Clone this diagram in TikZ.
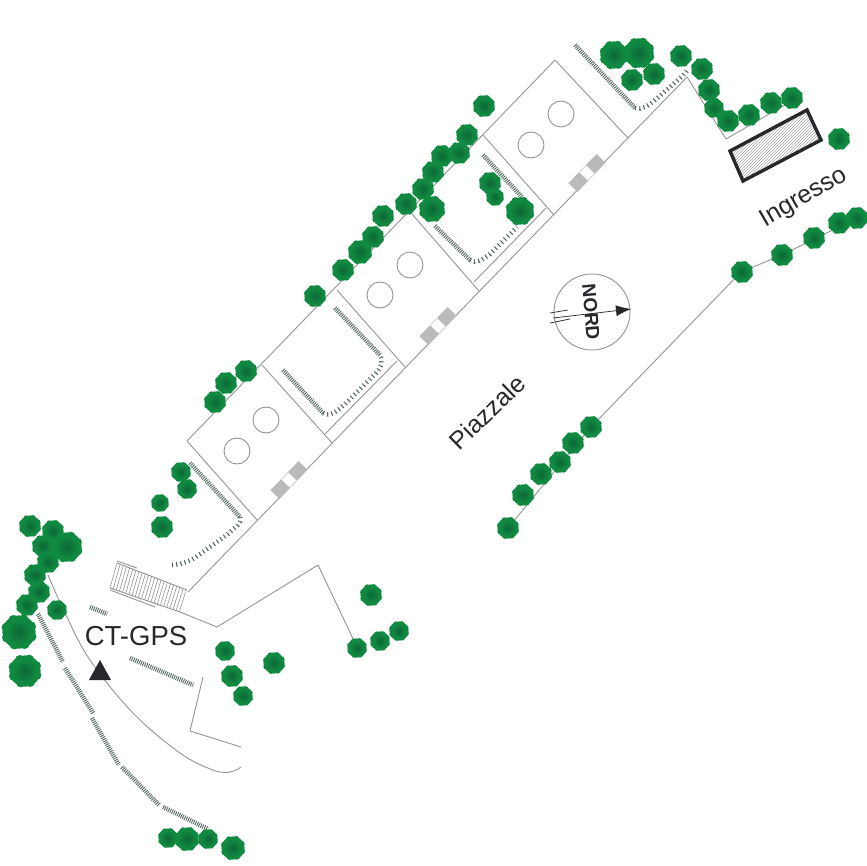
\documentclass[tikz,border=0pt]{standalone}
\usepackage{fontspec}
\setmainfont{Liberation Sans}
\usetikzlibrary{calc,patterns,arrows.meta}
\definecolor{leaf}{HTML}{118A41}
\definecolor{leafcore}{HTML}{0C6636}
\definecolor{hedgecol}{HTML}{56695F}
\definecolor{linecol}{HTML}{939494}
\definecolor{gatecol}{HTML}{B9BABB}
\definecolor{inkcol}{HTML}{26282B}

\begin{document}
\begin{tikzpicture}
    [
    x = 1pt,
    y = -1pt,
    wall/.style     = {draw=linecol, line width=0.9pt, line join=round},
    hedge/.style    = {draw=hedgecol, line width=4.6pt, dash pattern=on 0.9pt off 1.1pt},
    hedgeb/.style   = {draw=hedgecol, line width=4.6pt, dash pattern=on 1.1pt off 3.2pt},
    txt/.style      = {text=inkcol, inner sep=0pt},
    well/.style     = {draw=linecol, line width=0.9pt}
    ]
    \useasboundingbox (0,0) rectangle (866,866);

    % boundary of the lots
    \draw [wall] (188,592) -- (687,77) -- (726,139) -- (785,105);
    \draw [wall] (187,441) -- (555,60) -- (628,138);
    \draw [wall] (187,441) -- (257,520);
    \draw [wall] (262,365) -- (332,443);
    \draw [wall] (337,290) -- (405,367);
    \draw [wall] (412,214) -- (479,291);
    \draw [wall] (483,135) -- (554,215);
    \draw [wall] (325,434) -- (397,361);
    \draw [wall] (474,282) -- (546,208);

    % lower road
    \draw [wall] (180,612) -- (217,627) -- (318,565) -- (356,645);
    \draw [wall] (203,677) -- (190,731) -- (241,747);
    \draw [wall] plot [smooth, tension=0.6] coordinates
        {(48,575) (65,613) (90,660) (133,713) (180,753) (213,770) (230,772) (241,767)};
    \draw [wall] (508,528) -- (591,427) -- (741,272) -- (782,255) -- (857,218);

    % wells
    \foreach \wx/\wy in {237/451, 266/420, 380/295, 410/265, 531/145, 561/114}
        \draw [well] (\wx,\wy) circle (13pt);

    % gates
    \foreach \gx/\gy in {289/480, 438/326, 587/173} {
        \begin{scope}[shift={(\gx,\gy)}, rotate=46]
            \draw [draw=gatecol, fill=white, line width=0.5pt] (-20,-6) rectangle (20,6);
            \fill [gatecol] (-20,-6) rectangle (-5,6);
            \fill [gatecol] (5,-6) rectangle (20,6);
        \end{scope}
    }

    % stairs
    \coordinate (stairA) at (117,563);
    \coordinate (stairB) at (187,590);
    \coordinate (stairC) at (110,588);
    \coordinate (stairD) at (180,612);
    \foreach \t in {0,0.045,...,1.01}
        \draw [draw=linecol, line width=0.6pt] ($(stairA)!\t!(stairB)$) -- ($(stairC)!\t!(stairD)$);
    \draw [wall] (stairA) -- (stairB);
    \draw [wall] (stairC) -- (stairD);
    \draw [wall] (117,561) -- (137,568);
    \draw [wall] (110,590) -- (155,607);

    % hedges
    \draw [hedge] (38,614) -- (63,662);
    \draw [hedge] (65,668) -- (93,713);
    \draw [hedge] (92,718) -- (119,765);
    \draw [hedge] (122,767) -- (159,805);
    \draw [hedge] (163,807) -- (208,829);
    \draw [hedge] (90,607) -- (107,614);
    \draw [hedge] (130,658) -- (193,685);
    \draw [hedge] (190,463) -- (240,517);
    \draw [hedgeb] (240,517) .. controls (242,524) and (236,526) .. (228,534) -- (196,557) .. controls (188,562) and (180,565) .. (169,565);
    \draw [hedge] (283,370) -- (323,413);
    \draw [hedgeb] (323,413) .. controls (330,417) and (336,412) .. (345,404) -- (376,373) .. controls (382,367) and (383,362) .. (380,355);
    \draw [hedge] (335,308) -- (380,355);
    \draw [hedge] (483,155) -- (522,197);
    \draw [hedge] (435,226) -- (470,260);
    \draw [hedgeb] (470,260) .. controls (476,264) and (482,260) .. (490,254) -- (517,227);
    \draw [hedge] (575,45) -- (635,108);
    \draw [hedgeb] (635,108) .. controls (642,110) and (648,106) .. (655,100) -- (678,80) .. controls (683,76) and (686,72) .. (688,69);

    % trees
    \foreach \tx/\ty/\tr in {
        614/55/13, 639/53/14, 632/80/10, 654/74/10, 681/56/10, 702/69/10, 709/90/10,
        714/108/9, 728/121/10, 749/115/10, 771/103/10, 792/98/10, 839/139/10,
        742/272/10, 782/255/10, 814/238/10, 839/223/10, 857/218/10,
        591/427/10, 573/443/10, 560/462/10, 541/474/10, 523/495/10, 508/528/10,
        484/106/10, 467/135/10, 459/153/10, 442/156/10, 433/172/10, 423/189/10,
        406/204/10, 432/209/12, 490/183/10, 495/197/8, 520/211/13,
        383/216/10, 373/237/10, 360/252/11, 343/270/10, 315/296/10,
        246/371/10, 226/383/10, 215/402/10, 181/472/9, 187/489/9, 160/503/8, 162/527/10,
        30/526/10, 53/531/10, 43/546/10, 67/547/14, 48/562/10, 35/575/10, 39/592/10,
        27/605/10, 57/610/9, 19/632/16, 25/671/15,
        168/838/9, 187/839/11, 208/839/9, 233/848/11,
        225/651/9, 232/676/10, 243/696/9, 274/663/10,
        371/595/10, 357/648/9, 380/641/9, 399/631/9}
        {
        \fill [leaf] (\tx,\ty) circle ({(\tr+0.6)*1pt});
        \foreach \ta in {20,65,...,340}
            \fill [leaf] ($(\tx,\ty)+(\ta:{0.82*\tr})$) circle ({0.32*\tr*1pt});
        \shade [inner color=leafcore, outer color=leaf] (\tx,\ty) circle ({0.8*\tr*1pt});
        }

    % entrance block
    \draw [draw=inkcol, line width=3.4pt, pattern=north east lines, pattern color=gray!70]
        (730,151) -- (807,110) -- (821,140) -- (743,181) -- cycle;

    % compass
    \draw [well] (592,312) circle (38pt);
    \node (nordtext) [txt, font=\bfseries\fontsize{19}{19}\selectfont, rotate=-85] at (591,312) {NORD};
    \draw [draw=inkcol, line width=0.7pt] (550,313) -- (568,310);
    \draw [draw=inkcol, line width=0.7pt] (550,323) -- (570,319);
    \draw [draw=inkcol, line width=0.7pt, -{Latex[length=15pt,width=11pt]}] (553,318) -- (631,309);

    % station mark and labels
    \fill [inkcol] (100,660) -- (111,680) -- (89,680) -- cycle;
    \node (ctgps) [txt, font=\fontsize{27.5}{28}\selectfont] at (136,636) {CT-GPS};
    \node (piazzale) [txt, font=\fontsize{25}{25}\selectfont, rotate=44] at (487,412) {Piazzale};
    \node (ingresso) [txt, font=\fontsize{25}{25}\selectfont, rotate=30] at (804,198) {Ingresso};
\end{tikzpicture}
\end{document}
